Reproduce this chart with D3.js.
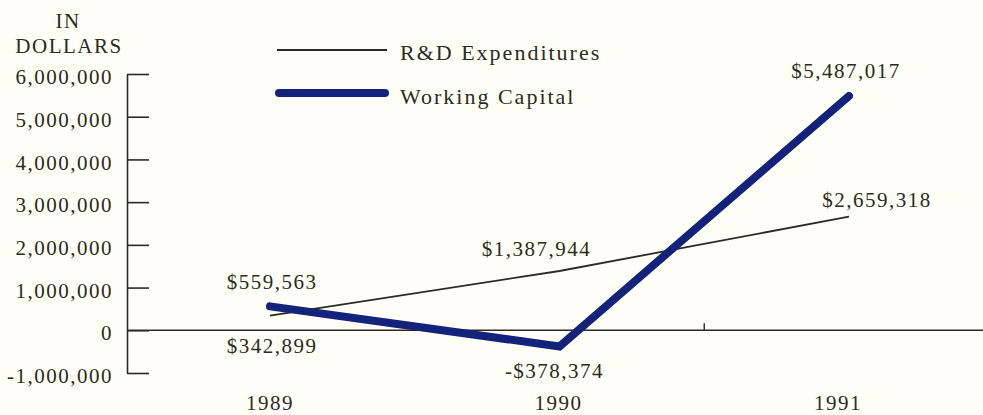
<!DOCTYPE html>
<html>
<head>
<meta charset="utf-8">
<script src="https://cdn.jsdelivr.net/npm/d3@7"></script>
<style>
  body { margin: 0; background: #fefef6; }
  svg { display: block; }
  text { font-family: "Liberation Serif", serif; font-size: 21px; fill: #2b2b22; letter-spacing: 1.5px; }
  .legend text { font-size: 22px; letter-spacing: 2px; }
</style>
</head>
<body>
<div id="chart"></div>
<script>
const years = ["1989", "1990", "1991"];
const rdValues = [342899, 1387944, 2659318];
const wcValues = [559563, -378374, 5487017];
const yTicks = [-1000000, 0, 1000000, 2000000, 3000000, 4000000, 5000000, 6000000];
const seriesNames = ["R&D Expenditures", "Working Capital"];

const width = 983, height = 415;
const ink = "#2b2b22";
const blue = "#13227a";

const svg = d3.select("#chart").append("svg")
    .attr("width", width)
    .attr("height", height);

const x = d3.scalePoint().domain(years).range([270, 849]);
const y = d3.scaleLinear().domain([-1000000, 6000000]).range([373, 74]);

const fmt = d => d3.format(",")(d).replace("\u2212", "-");
const money = d => (d < 0 ? "-$" : "$") + d3.format(",")(Math.abs(d));

// y axis, ticks point inward
const yAxis = svg.append("g")
    .attr("transform", "translate(127,0)")
    .call(d3.axisLeft(y).tickValues(yTicks).tickFormat(fmt)
        .tickSizeInner(-22).tickSizeOuter(0).tickPadding(14));
yAxis.selectAll("path, line").attr("stroke", ink).attr("stroke-width", 1.6);
yAxis.selectAll("text")
    .attr("fill", ink)
    .style("font-family", "'Liberation Serif', serif")
    .style("font-size", "21px")
    .attr("dy", "0.46em");

// axis title
svg.append("text").attr("x", 68).attr("y", 28).attr("text-anchor", "middle").text("IN");
svg.append("text").attr("x", 69).attr("y", 53).attr("text-anchor", "middle").text("DOLLARS");

// zero line across the chart
svg.append("line")
    .attr("x1", 127).attr("x2", width)
    .attr("y1", y(0)).attr("y2", y(0))
    .attr("stroke", ink).attr("stroke-width", 1.6);

// small tick between 1990 and 1991
const midX = (x("1990") + x("1991")) / 2;
svg.append("line")
    .attr("x1", midX).attr("x2", midX)
    .attr("y1", y(0)).attr("y2", y(0) - 7)
    .attr("stroke", ink).attr("stroke-width", 1.4);

// year labels
const yearShift = [0, -1, -11];
svg.append("g").selectAll("text")
    .data(years)
    .join("text")
    .attr("x", (d, i) => x(d) + yearShift[i])
    .attr("y", 410)
    .attr("text-anchor", "middle")
    .text(d => d);

const line = d3.line().x((d, i) => x(years[i])).y(d => y(d));

svg.append("path")
    .datum(rdValues)
    .attr("fill", "none")
    .attr("stroke", ink)
    .attr("stroke-width", 1.8)
    .attr("d", line);

svg.append("path")
    .datum(wcValues)
    .attr("fill", "none")
    .attr("stroke", blue)
    .attr("stroke-width", 8)
    .attr("stroke-linecap", "round")
    .attr("stroke-linejoin", "miter")
    .attr("d", line);

// value labels (offsets from the points)
const rdOffsets = [[2, 37], [-23, -15], [28, -10]];
const wcOffsets = [[2, -17], [-5, 32], [-3, -18]];

svg.append("g").selectAll("text")
    .data(rdValues)
    .join("text")
    .attr("x", (d, i) => x(years[i]) + rdOffsets[i][0])
    .attr("y", (d, i) => y(d) + rdOffsets[i][1])
    .attr("text-anchor", "middle")
    .text(money);

svg.append("g").selectAll("text")
    .data(wcValues)
    .join("text")
    .attr("x", (d, i) => x(years[i]) + wcOffsets[i][0])
    .attr("y", (d, i) => y(d) + wcOffsets[i][1])
    .attr("text-anchor", "middle")
    .text(money);

// legend
const legend = svg.append("g").attr("class", "legend");
legend.append("line")
    .attr("x1", 277).attr("x2", 387).attr("y1", 50).attr("y2", 50)
    .attr("stroke", ink).attr("stroke-width", 1.8);
legend.append("line")
    .attr("x1", 279).attr("x2", 385).attr("y1", 93).attr("y2", 93)
    .attr("stroke", blue).attr("stroke-width", 8).attr("stroke-linecap", "round");
legend.selectAll("text")
    .data(seriesNames)
    .join("text")
    .attr("x", 400)
    .attr("y", (d, i) => [60, 104][i])
    .text(d => d);
</script>
</body>
</html>
